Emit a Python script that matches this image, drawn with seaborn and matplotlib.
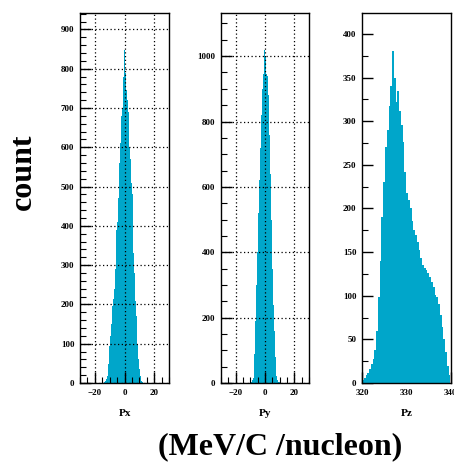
import numpy as np
import pandas as pd
import matplotlib
matplotlib.use("Agg")
import matplotlib.pyplot as plt
from matplotlib.ticker import MultipleLocator
import seaborn as sns

sns.set_theme(style="white")
plt.rcParams["font.family"] = ["Liberation Serif", "DejaVu Serif"]
plt.rcParams["font.weight"] = "bold"
plt.rcParams["text.color"] = "black"
plt.rcParams["axes.labelcolor"] = "black"
plt.rcParams["xtick.color"] = "black"
plt.rcParams["ytick.color"] = "black"
plt.rcParams["axes.edgecolor"] = "black"

# ---------------- data ----------------
px_bin_start = -14.4
px_bin_width = 0.6
px_counts = [1, 2, 5, 10, 18, 30, 48, 95, 120, 150, 195, 215, 240, 290, 310,
             390, 410, 470, 560, 610, 680, 700, 780, 848, 820, 790, 745, 720,
             690, 600, 570, 510, 480, 420, 330, 280, 210, 170, 100, 60, 35, 18,
             10, 5, 3, 1]

py_bin_start = -10.8
py_bin_width = 0.6
py_counts = [1, 2, 4, 8, 15, 30, 90, 190, 300, 400, 520, 620, 720, 780, 820,
             900, 945, 1019, 1000, 945, 940, 880, 830, 760, 640, 500, 350, 240,
             160, 80, 40, 20, 10, 4, 2]

pz_bin_start = 320.0
pz_bin_width = 0.4
pz_counts = [3, 6, 9, 12, 16, 22, 28, 38, 60, 98, 140, 190, 230, 270, 290, 318,
             340, 380, 350, 322, 335, 312, 296, 276, 242, 218, 210, 200, 186,
             175, 170, 162, 152, 143, 135, 132, 130, 126, 122, 116, 110, 101,
             98, 90, 78, 64, 50, 35, 20, 9]

panel_names = ["Px", "Py", "Pz"]
x_limits = [(-30, 30), (-30, 30), (320, 340)]
y_limits = [(0, 942), (0, 1132), (0, 424)]
x_major = [20, 20, 10]
x_minor = [5, 5, 1]
y_major = [100, 200, 50]
y_minor = [20, 50, 25]
show_grid = [True, True, False]

bar_color = "#00A6CA"

# ---------------- figure ----------------
fig = plt.figure(figsize=(4.54, 4.66), dpi=100)
W, H = 454.0, 466.0
boxes = [(80, 13, 89, 370), (221, 13, 88, 370), (362, 13, 88.5, 370)]
label_x = [125, 265, 407]

series = [(px_bin_start, px_bin_width, px_counts),
          (py_bin_start, py_bin_width, py_counts),
          (pz_bin_start, pz_bin_width, pz_counts)]

for i, (start, width, counts) in enumerate(series):
    l, t, w, h = boxes[i]
    ax = fig.add_axes([l / W, 1 - (t + h) / H, w / W, h / H])
    n = len(counts)
    edges = [float(start + width * k) for k in range(n + 1)]
    centers = [(edges[k] + edges[k + 1]) / 2 for k in range(n)]
    df = pd.DataFrame({"p": centers, "count": [float(c) for c in counts]})
    sns.histplot(data=df, x="p", weights="count", bins=edges, ax=ax,
                 color=bar_color, alpha=1.0, linewidth=0, element="bars",
                 fill=True)
    ax.set_xlim(*x_limits[i])
    ax.set_ylim(*y_limits[i])
    ax.set_xlabel("")
    ax.set_ylabel("")
    ax.xaxis.set_major_locator(MultipleLocator(x_major[i]))
    ax.xaxis.set_minor_locator(MultipleLocator(x_minor[i]))
    ax.yaxis.set_major_locator(MultipleLocator(y_major[i]))
    ax.yaxis.set_minor_locator(MultipleLocator(y_minor[i]))
    ax.tick_params(which="major", direction="in", length=8, width=1.0,
                   color="black", labelcolor="black", labelsize=6.5, pad=4,
                   top=False, right=False, left=True, bottom=True)
    ax.tick_params(which="minor", direction="in", length=4, width=0.8,
                   color="black", top=False, right=False, left=True,
                   bottom=True)
    for lab in ax.get_xticklabels() + ax.get_yticklabels():
        lab.set_fontweight("bold")
    for s in ax.spines.values():
        s.set_color("black")
        s.set_linewidth(1.0)
        s.set_visible(True)
    if show_grid[i]:
        ax.grid(True, which="major", color="black", linestyle=(0, (1, 2)),
                linewidth=0.9)
        ax.set_axisbelow(False)
    else:
        ax.grid(False)
    ax.set_facecolor("white")
    fig.text(label_x[i] / W, 1 - 413 / H, panel_names[i], ha="center",
             va="center", fontsize=8, fontweight="bold", color="black")

fig.text(23 / W, 1 - 172 / H, "count", rotation=90, ha="center",
         va="center", fontsize=23, fontweight="bold", color="black")
fig.text(280 / W, 1 - 447 / H, "(MeV/C /nucleon)", ha="center",
         va="center", fontsize=23, fontweight="bold", color="black")

fig.savefig("out.png", dpi=100, facecolor="white")
